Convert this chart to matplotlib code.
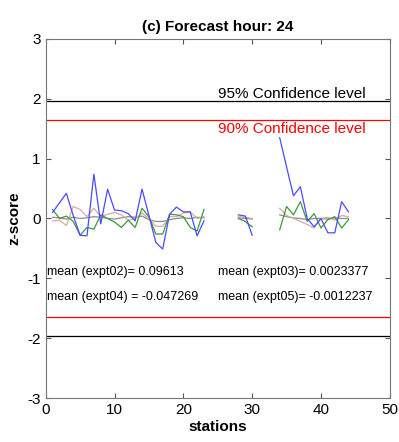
import numpy as np
import matplotlib
matplotlib.use("Agg")
import matplotlib.pyplot as plt

plt.rcParams['font.family'] = ['Liberation Sans', 'DejaVu Sans']
plt.rcParams['axes.unicode_minus'] = False

nan = np.nan
stations = np.arange(1, 45)

expt02 = [0.10, 0.26, 0.42, 0.05, -0.28, -0.29, 0.74, -0.09, 0.49, 0.14,
          0.13, 0.08, -0.04, 0.49, 0.05, -0.40, -0.51, 0.07, 0.19, 0.11,
          0.11, -0.29, -0.04, nan, nan, nan, nan, 0.06, 0.04, -0.28,
          nan, nan, nan, 1.35, 0.86, 0.38, 0.53, 0.00, -0.14, 0.00,
          -0.24, -0.24, 0.28, 0.11]
expt03 = [0.15, 0.00, 0.04, -0.05, -0.28, -0.15, -0.18, 0.06, 0.00, -0.06,
          -0.15, -0.03, -0.15, 0.17, 0.03, -0.26, -0.26, 0.07, 0.06, 0.03,
          -0.15, -0.21, 0.15, nan, nan, nan, nan, 0.00, -0.05, -0.14,
          nan, nan, nan, -0.19, 0.20, 0.06, 0.28, -0.05, 0.08, -0.16,
          -0.02, 0.03, -0.16, -0.02]
expt04 = [-0.04, -0.03, -0.12, 0.20, 0.15, 0.03, 0.17, 0.03, 0.07, 0.10,
          0.06, -0.03, 0.00, 0.09, 0.00, -0.13, -0.13, 0.03, 0.03, 0.09,
          0.11, 0.00, 0.03, nan, nan, nan, nan, 0.03, 0.02, 0.00,
          nan, nan, nan, 0.17, 0.05, 0.00, -0.05, -0.10, -0.16, 0.00,
          0.02, -0.03, 0.05, 0.03]
expt05 = [0.02, 0.01, -0.01, 0.02, 0.00, 0.01, 0.03, 0.02, 0.00, -0.01,
          0.01, 0.03, 0.02, 0.04, -0.02, -0.05, -0.05, -0.02, 0.00, 0.01,
          0.00, 0.02, 0.01, nan, nan, nan, nan, 0.01, 0.00, -0.01,
          nan, nan, nan, 0.06, 0.03, 0.01, 0.00, -0.02, 0.00, 0.00,
          -0.01, 0.01, 0.00, 0.00]

ci95 = 1.96
ci90 = 1.645
means = {"expt02": "0.09613", "expt03": "0.0023377",
         "expt04": "-0.047269", "expt05": "-0.0012237"}

fig = plt.figure(figsize=(3.99, 4.42), dpi=100)
ax = fig.add_axes([0.1145, 0.0995, 0.8625, 0.8125])

ax.axhline(ci95, color='black', lw=0.9)
ax.axhline(-ci95, color='black', lw=0.9)
ax.axhline(ci90, color='red', lw=0.9)
ax.axhline(-ci90, color='red', lw=0.9)

ax.plot(stations, expt05, color='#8c8c8c', lw=0.9)
ax.plot(stations, expt04, color='#d9aaaa', lw=0.9)
ax.plot(stations, expt03, color='#3a9a3a', lw=0.9)
ax.plot(stations, expt02, color='#4a4aff', lw=0.9)

ax.text(25, ci95, "95% Confidence level", color='black', fontsize=11, va='bottom', ha='left')
ax.text(25, 1.49, "90% Confidence level", color='red', fontsize=11, va='center', ha='left')

ax.text(0.2, -0.9, "mean (expt02)= " + means["expt02"], fontsize=9, va='center')
ax.text(0.2, -1.31, "mean (expt04) = " + means["expt04"], fontsize=9, va='center')
ax.text(25, -0.9, "mean (expt03)= " + means["expt03"], fontsize=9, va='center')
ax.text(25, -1.31, "mean (expt05)= " + means["expt05"], fontsize=9, va='center')

ax.set_xlim(0, 50)
ax.set_ylim(-3, 3)
ax.set_xticks([0, 10, 20, 30, 40, 50])
ax.set_yticks([-3, -2, -1, 0, 1, 2, 3])
ax.tick_params(direction='in', top=True, right=True, labelsize=11, length=3.5, color='#555555')
for s in ax.spines.values():
    s.set_color('#777777')
ax.set_title("(c) Forecast hour: 24", fontsize=11, fontweight='bold', pad=6)
ax.set_xlabel("stations", fontsize=11, fontweight='bold', labelpad=2)
ax.set_ylabel("z-score", fontsize=11, fontweight='bold', labelpad=4)

fig.savefig("out.png", dpi=100)
